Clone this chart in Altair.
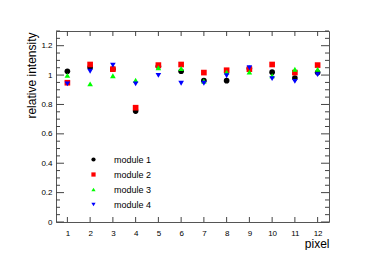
import altair as alt
import pandas as pd

pixels = list(range(1, 13))
module1 = [1.026, 1.052, 1.040, 0.755, 1.060, 1.026, 0.962, 0.962, 1.045, 1.020, 0.980, 1.017]
module2 = [0.948, 1.072, 1.040, 0.778, 1.068, 1.072, 1.017, 1.033, 1.040, 1.072, 1.017, 1.068]
module3 = [0.998, 0.940, 0.995, 0.965, 1.050, 1.045, 0.960, 1.020, 1.020, 0.995, 1.040, 1.040]
module4 = [0.940, 1.026, 1.068, 0.940, 0.998, 0.944, 0.944, 0.995, 1.050, 0.976, 0.957, 1.003]
names = ["module 1", "module 2", "module 3", "module 4"]
colors = ["#000000", "#ff0000", "#00ff00", "#0000ff"]
shapes = ["circle", "square", "triangle-up", "triangle-down"]

y_major = [0, 0.2, 0.4, 0.6, 0.8, 1.0, 1.2]
y_minor = [round(i * 0.05, 2) for i in range(27) if i % 4 != 0]
x_ticks = pixels

W, H = 273, 191
FONT = "Liberation Sans"

rows = []
for i, (name, vals) in enumerate(zip(names, [module1, module2, module3, module4])):
    for p, v in zip(pixels, vals):
        rows.append({"pixel": p, "value": v, "module": name, "order": i})
df = pd.DataFrame(rows)

xs = alt.Scale(domain=[0.5, 12.5], nice=False, zero=False)
ys = alt.Scale(domain=[0, 1.3], nice=False, zero=False)

x_axis = alt.Axis(values=x_ticks, format="d", ticks=False, domain=False, grid=False,
                  labelPadding=7, labelFontSize=8, labelFont=FONT, labelColor="#000",
                  title="pixel", titleFont=FONT, titleFontSize=12, titleFontWeight="normal",
                  titleColor="#000", titleAnchor="end", titleAlign="right", titleX=W, titleY=25,
                  titleBaseline="alphabetic")
y_axis = alt.Axis(values=y_major, format="~g", ticks=False, domain=False, grid=False,
                  labelPadding=4, labelFontSize=8, labelFont=FONT, labelColor="#000",
                  title="relative intensity", titleFont=FONT, titleFontSize=12,
                  titleFontWeight="normal", titleColor="#000", titleAngle=-90, titleAlign="right",
                  titleX=-21, titleY=1, titleBaseline="alphabetic")

leg = alt.Legend(title=None, orient="none", legendX=33, legendY=124,
                 symbolSize=18, labelFont=FONT, labelFontSize=9, labelColor="#000",
                 labelOffset=16, rowPadding=5, padding=0, symbolStrokeWidth=0)

points = alt.Chart(df).mark_point(filled=True, size=32, opacity=1).encode(
    x=alt.X("pixel:Q", scale=xs, axis=x_axis, title="pixel"),
    y=alt.Y("value:Q", scale=ys, axis=y_axis, title="relative intensity"),
    color=alt.Color("module:N", scale=alt.Scale(domain=names, range=colors), legend=leg),
    shape=alt.Shape("module:N", scale=alt.Scale(domain=names, range=shapes), legend=leg),
    order=alt.Order("order:Q"),
)

tick_color = "#444"

ymaj = pd.DataFrame({"v": y_major})
ymin = pd.DataFrame({"v": y_minor})
xt = pd.DataFrame({"v": x_ticks})

def yticks(data, length, side):
    if side == "left":
        x0, x1 = 0, length
    else:
        x0, x1 = W - length, W
    return alt.Chart(data).mark_rule(color=tick_color, strokeWidth=1).encode(
        y=alt.Y("v:Q", scale=ys, axis=y_axis, title="relative intensity"),
        x=alt.value(x0), x2=alt.value(x1))

def xticks(data, length, side):
    if side == "bottom":
        y0, y1 = H - length, H
    else:
        y0, y1 = 0, length
    return alt.Chart(data).mark_rule(color=tick_color, strokeWidth=1).encode(
        x=alt.X("v:Q", scale=xs, axis=x_axis, title="pixel"),
        y=alt.value(y0), y2=alt.value(y1))

chart = alt.layer(
    points,
    yticks(ymaj, 8, "left"), yticks(ymin, 4, "left"),
    yticks(ymaj, 8, "right"), yticks(ymin, 4, "right"),
    xticks(xt, 5, "bottom"), xticks(xt, 5, "top"),
).properties(
    width=W, height=H,
    autosize=alt.AutoSizeParams(type="none"),
    padding={"left": 48, "top": 23, "right": 37, "bottom": 28},
    background="white",
).configure_view(stroke="#555", strokeWidth=1).configure_axis(grid=False)

chart.save("out.html", embed_options={"renderer": "svg", "actions": False})
